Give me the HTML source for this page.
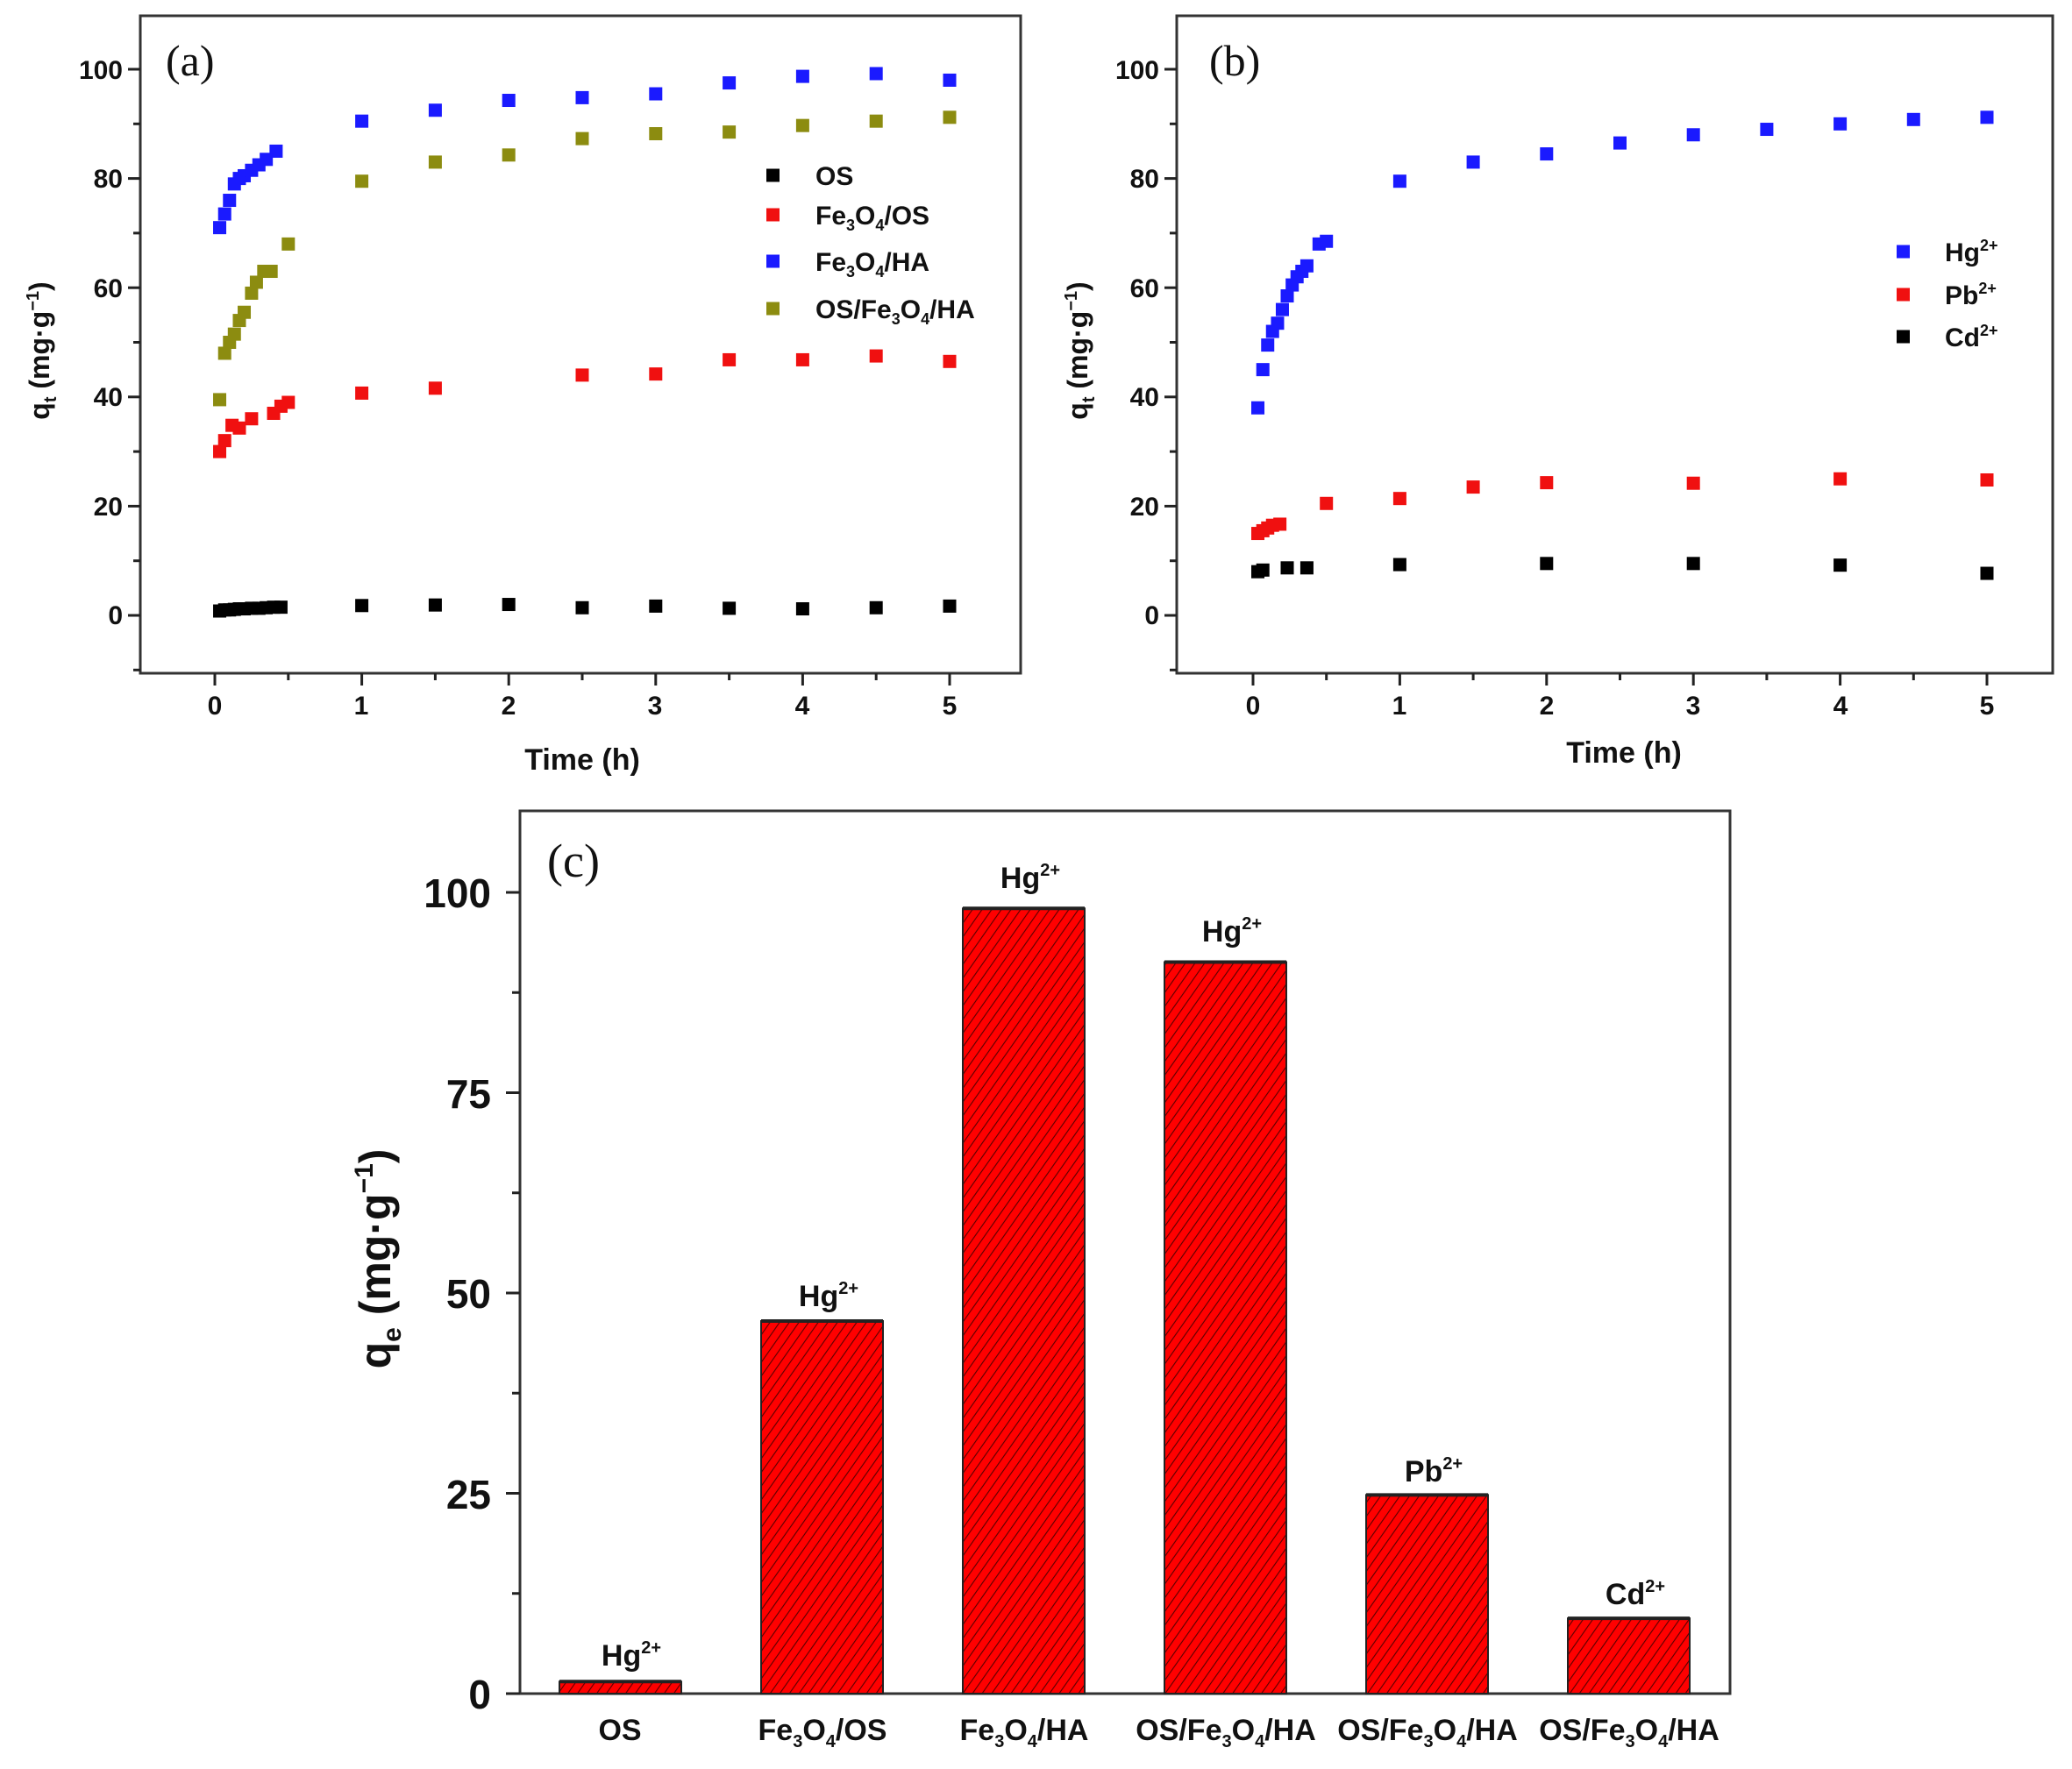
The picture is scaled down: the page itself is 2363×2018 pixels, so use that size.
<!DOCTYPE html>
<html><head><meta charset="utf-8"><style>
html,body{margin:0;padding:0;background:#fff}
svg{display:block}
text{font-family:"Liberation Sans",Arial,sans-serif;font-weight:bold;fill:#111}
.s{font-family:"Liberation Serif",serif;font-weight:normal}
</style></head><body>
<svg id="c" width="2363" height="2018" viewBox="0 0 2363 2018" xmlns="http://www.w3.org/2000/svg">
<defs>
<pattern id="h" width="9" height="9" patternUnits="userSpaceOnUse" patternTransform="rotate(35)">
<rect width="9" height="9" fill="#f00"/>
<line x1="0" y1="0" x2="0" y2="9" stroke="#5a0000" stroke-width="2.2"/>
</pattern>
</defs>
<g id="g"></g>
<!-- panel a texts -->
<text class="s" x="189" y="86" font-size="50">(a)</text>
<g font-size="30" text-anchor="end">
<text x="140" y="712">0</text><text x="140" y="588">20</text><text x="140" y="463">40</text>
<text x="140" y="339">60</text><text x="140" y="214">80</text><text x="140" y="90">100</text>
</g>
<g font-size="30" text-anchor="middle">
<text x="245" y="815">0</text><text x="412" y="815">1</text><text x="580" y="815">2</text>
<text x="747" y="815">3</text><text x="915" y="815">4</text><text x="1083" y="815">5</text>
</g>
<text x="664" y="878" font-size="34" text-anchor="middle">Time (h)</text>
<text transform="translate(56,400) rotate(-90)" font-size="32" text-anchor="middle">q<tspan font-size="20" dy="8">t</tspan><tspan dy="-8"> (mg·g</tspan><tspan font-size="20" dy="-12">−1</tspan><tspan dy="12">)</tspan></text>
<g font-size="30">
<text x="930" y="211">OS</text>
<text x="930" y="256">Fe<tspan font-size="18" dy="7">3</tspan><tspan dy="-7">O</tspan><tspan font-size="18" dy="7">4</tspan><tspan dy="-7">/OS</tspan></text>
<text x="930" y="309">Fe<tspan font-size="18" dy="7">3</tspan><tspan dy="-7">O</tspan><tspan font-size="18" dy="7">4</tspan><tspan dy="-7">/HA</tspan></text>
<text x="930" y="363">OS/Fe<tspan font-size="18" dy="7">3</tspan><tspan dy="-7">O</tspan><tspan font-size="18" dy="7">4</tspan><tspan dy="-7">/HA</tspan></text>
</g>
<!-- panel b texts -->
<text class="s" x="1379" y="86" font-size="50">(b)</text>
<g font-size="30" text-anchor="end">
<text x="1322" y="712">0</text><text x="1322" y="588">20</text><text x="1322" y="463">40</text>
<text x="1322" y="339">60</text><text x="1322" y="214">80</text><text x="1322" y="90">100</text>
</g>
<g font-size="30" text-anchor="middle">
<text x="1429" y="815">0</text><text x="1596" y="815">1</text><text x="1764" y="815">2</text>
<text x="1931" y="815">3</text><text x="2099" y="815">4</text><text x="2266" y="815">5</text>
</g>
<text x="1852" y="870" font-size="34" text-anchor="middle">Time (h)</text>
<text transform="translate(1240,400) rotate(-90)" font-size="32" text-anchor="middle">q<tspan font-size="20" dy="8">t</tspan><tspan dy="-8"> (mg·g</tspan><tspan font-size="20" dy="-12">−1</tspan><tspan dy="12">)</tspan></text>
<g font-size="30">
<text x="2218" y="298">Hg<tspan font-size="18" dy="-12">2+</tspan></text>
<text x="2218" y="347">Pb<tspan font-size="18" dy="-12">2+</tspan></text>
<text x="2218" y="395">Cd<tspan font-size="18" dy="-12">2+</tspan></text>
</g>
<!-- panel c texts -->
<text class="s" x="624" y="1000" font-size="54">(c)</text>
<g font-size="46" text-anchor="end">
<text x="560" y="1949">0</text><text x="560" y="1721">25</text><text x="560" y="1492">50</text>
<text x="560" y="1264">75</text><text x="560" y="1035">100</text>
</g>
<text transform="translate(445,1436) rotate(-90)" font-size="50" text-anchor="middle">q<tspan font-size="30" dy="12">e</tspan><tspan dy="-12"> (mg·g</tspan><tspan font-size="30" dy="-20">−1</tspan><tspan dy="20">)</tspan></text>
<g font-size="34" text-anchor="middle">
<text x="707" y="1985">OS</text>
<text x="938" y="1985">Fe<tspan font-size="20" dy="8">3</tspan><tspan dy="-8">O</tspan><tspan font-size="20" dy="8">4</tspan><tspan dy="-8">/OS</tspan></text>
<text x="1168" y="1985">Fe<tspan font-size="20" dy="8">3</tspan><tspan dy="-8">O</tspan><tspan font-size="20" dy="8">4</tspan><tspan dy="-8">/HA</tspan></text>
<text x="1398" y="1985">OS/Fe<tspan font-size="20" dy="8">3</tspan><tspan dy="-8">O</tspan><tspan font-size="20" dy="8">4</tspan><tspan dy="-8">/HA</tspan></text>
<text x="1628" y="1985">OS/Fe<tspan font-size="20" dy="8">3</tspan><tspan dy="-8">O</tspan><tspan font-size="20" dy="8">4</tspan><tspan dy="-8">/HA</tspan></text>
<text x="1858" y="1985">OS/Fe<tspan font-size="20" dy="8">3</tspan><tspan dy="-8">O</tspan><tspan font-size="20" dy="8">4</tspan><tspan dy="-8">/HA</tspan></text>
</g>
<g font-size="34" text-anchor="middle">
<text x="720" y="1900">Hg<tspan font-size="20" dy="-14">2+</tspan></text>
<text x="945" y="1490">Hg<tspan font-size="20" dy="-14">2+</tspan></text>
<text x="1175" y="1013">Hg<tspan font-size="20" dy="-14">2+</tspan></text>
<text x="1405" y="1074">Hg<tspan font-size="20" dy="-14">2+</tspan></text>
<text x="1635" y="1690">Pb<tspan font-size="20" dy="-14">2+</tspan></text>
<text x="1865" y="1830">Cd<tspan font-size="20" dy="-14">2+</tspan></text>
</g>
</svg>
<script>
var g=document.getElementById('g'),o='';
function L(x1,y1,x2,y2,w){o+='<line x1="'+x1+'" y1="'+y1+'" x2="'+x2+'" y2="'+y2+'" stroke="#222" stroke-width="'+(w||3)+'"/>';}
function frame(x0,y0,x1,y1){o+='<rect x="'+x0+'" y="'+y0+'" width="'+(x1-x0)+'" height="'+(y1-y0)+'" fill="none" stroke="#333" stroke-width="3"/>';}
function panel(fx0,fx1,X0,X5,series){
 frame(fx0,18,fx1,768);
 var Y=function(v){return 702-v*6.23;}, X=function(t){return X0+t*(X5-X0)/5;};
 for(var v=-10;v<=100;v+=10){var y=Y(v);L(fx0,y,fx0-(v%20==0?14:8),y);}
 for(var t=0;t<=5;t+=0.5){var x=X(t);L(x,768,x,768+(t%1==0?14:8));}
 series.forEach(function(s){s.d.forEach(function(p){o+='<rect x="'+(X(p[0])-7.5)+'" y="'+(Y(p[1])-7.5)+'" width="15" height="15" fill="'+s.c+'"/>';});});
}
var bl='#1a1aff',rd='#f01010',ol='#8c8c10',bk='#000';
panel(160,1164,245,1083,[
{c:bk,d:[[0.033,0.8],[0.067,1],[0.1,1],[0.133,1.1],[0.167,1.2],[0.2,1.2],[0.25,1.3],[0.3,1.3],[0.35,1.4],[0.4,1.5],[0.45,1.5],[1,1.8],[1.5,1.9],[2,2],[2.5,1.4],[3,1.7],[3.5,1.3],[4,1.2],[4.5,1.4],[5,1.7]]},
{c:rd,d:[[0.033,30],[0.067,32],[0.117,34.8],[0.167,34.3],[0.25,36],[0.4,37],[0.45,38.3],[0.5,39],[1,40.7],[1.5,41.6],[2.5,44],[3,44.2],[3.5,46.8],[4,46.8],[4.5,47.5],[5,46.5]]},
{c:bl,d:[[0.033,71],[0.067,73.5],[0.1,76],[0.133,79],[0.167,80],[0.2,80.5],[0.25,81.5],[0.3,82.5],[0.35,83.5],[0.417,85],[1,90.5],[1.5,92.5],[2,94.3],[2.5,94.8],[3,95.5],[3.5,97.5],[4,98.7],[4.5,99.2],[5,98]]},
{c:ol,d:[[0.033,39.5],[0.067,48],[0.1,50],[0.133,51.5],[0.167,54],[0.2,55.5],[0.25,59],[0.283,61],[0.333,63],[0.383,63],[0.5,68],[1,79.5],[1.5,83],[2,84.3],[2.5,87.3],[3,88.2],[3.5,88.5],[4,89.7],[4.5,90.5],[5,91.2]]}
]);
panel(1342,2341,1429,2266,[
{c:bl,d:[[0.033,38],[0.067,45],[0.1,49.5],[0.133,52],[0.167,53.5],[0.2,56],[0.233,58.5],[0.267,60.5],[0.3,62],[0.333,63],[0.367,64],[0.45,68],[0.5,68.5],[1,79.5],[1.5,83],[2,84.5],[2.5,86.5],[3,88],[3.5,89],[4,90],[4.5,90.8],[5,91.2]]},
{c:rd,d:[[0.033,15],[0.067,15.5],[0.1,16],[0.133,16.5],[0.183,16.7],[0.5,20.5],[1,21.4],[1.5,23.5],[2,24.3],[3,24.2],[4,25],[5,24.8]]},
{c:bk,d:[[0.033,8],[0.067,8.3],[0.233,8.7],[0.367,8.7],[1,9.3],[2,9.5],[3,9.5],[4,9.2],[5,7.7]]}
]);
// legend markers
[[bk,200],[rd,245],[bl,298],[ol,352]].forEach(function(m){o+='<rect x="874" y="'+(m[1]-7.5)+'" width="15" height="15" fill="'+m[0]+'"/>';});
[[bl,287],[rd,336],[bk,384]].forEach(function(m){o+='<rect x="2163" y="'+(m[1]-7.5)+'" width="15" height="15" fill="'+m[0]+'"/>';});
// panel c
frame(593,925,1973,1932);
var YC=function(v){return 1932-v*9.14;};
for(var v=0;v<=100;v+=12.5){var y=YC(v);L(593,y,593-(v%25==0?16:9),y);}
var vals=[1.5,46.5,98,91.3,24.8,9.4];
vals.forEach(function(v,i){var x=638+i*230,y=YC(v);o+='<rect x="'+x+'" y="'+y+'" width="139" height="'+(1932-y)+'" fill="url(#h)" stroke="#222" stroke-width="2"/>';L(x,y,x+139,y,4);});
g.innerHTML=o;
</script>
</body></html>
